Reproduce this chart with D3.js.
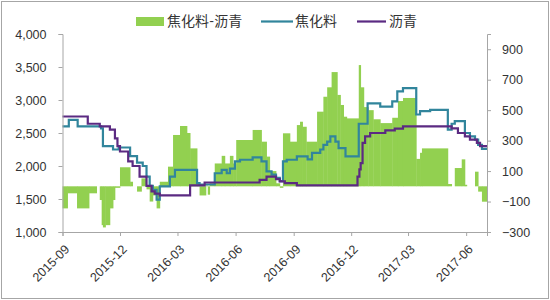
<!DOCTYPE html>
<html>
<head>
<meta charset="utf-8">
<script src="https://cdn.jsdelivr.net/npm/d3@7"></script>
<style>
  body { margin: 0; background: #fff; }
  svg { display: block; font-family: Lato, "Noto Sans CJK SC", sans-serif; }
</style>
</head>
<body>
<div id="chart"></div>
<script>
// legend names
const seriesNames = ["焦化料-沥青", "焦化料", "沥青"];

// x axis tick labels
const xTicks = ["2015-09", "2015-12", "2016-03", "2016-06", "2016-09", "2016-12", "2017-03", "2017-06"];
const leftTicks = [1000, 1500, 2000, 2500, 3000, 3500, 4000];
const rightTicks = [-300, -100, 100, 300, 500, 700, 900];

// 焦化料-沥青 spread (right axis), value holds from date to next date
const spreadDates = ["2015-09-01","2015-09-09","2015-09-24","2015-10-13","2015-10-25","2015-10-30","2015-11-02","2015-11-04","2015-11-08","2015-11-15","2015-11-20","2015-11-23","2015-12-01","2015-12-17","2015-12-21","2015-12-28","2016-01-04","2016-01-12","2016-01-17","2016-01-22","2016-01-28","2016-02-02","2016-02-15","2016-02-23","2016-03-05","2016-03-16","2016-03-21","2016-04-01","2016-04-05","2016-04-15","2016-04-18","2016-04-21","2016-04-29","2016-05-10","2016-05-15","2016-05-23","2016-05-28","2016-06-02","2016-06-28","2016-07-12","2016-07-20","2016-07-25","2016-08-04","2016-08-10","2016-08-15","2016-08-26","2016-09-06","2016-09-11","2016-09-15","2016-09-21","2016-10-08","2016-10-18","2016-10-24","2016-10-31","2016-11-09","2016-11-14","2016-11-19","2016-11-24","2016-12-13","2016-12-16","2016-12-21","2016-12-28","2017-01-05","2017-01-16","2017-02-04","2017-02-13","2017-02-21","2017-03-14","2017-03-20","2017-03-23","2017-05-03","2017-05-09","2017-05-14","2017-05-25","2017-05-30","2017-06-02","2017-06-15","2017-06-20","2017-06-26"];
const spreadValues = [-145,-46,-145,-46,0,-90,-255,-270,-255,-145,-90,-10,125,30,0,-35,52,-20,-100,-60,-145,30,129,337,396,350,249,20,-60,5,-55,20,150,200,150,200,150,304,370,293,195,100,20,-10,348,293,402,424,391,293,490,588,650,750,600,534,457,446,796,650,520,500,440,415,450,560,580,180,220,249,15,0,120,177,10,0,96,-35,-101];

// 焦化料 price (left axis)
const cokeDates = ["2015-09-01","2015-09-11","2015-09-25","2015-11-01","2015-11-04","2015-11-20","2015-11-29","2015-12-17","2015-12-28","2016-01-06","2016-01-12","2016-01-17","2016-01-22","2016-01-28","2016-02-02","2016-02-18","2016-02-26","2016-04-01","2016-04-05","2016-04-29","2016-05-10","2016-05-18","2016-05-23","2016-05-31","2016-06-08","2016-06-28","2016-07-12","2016-07-20","2016-07-28","2016-08-04","2016-08-10","2016-08-15","2016-08-21","2016-09-06","2016-09-23","2016-09-30","2016-10-13","2016-10-18","2016-10-24","2016-10-29","2016-11-06","2016-11-11","2016-11-22","2016-12-13","2016-12-27","2017-01-16","2017-02-04","2017-02-12","2017-02-21","2017-03-14","2017-03-20","2017-04-05","2017-05-03","2017-05-09","2017-05-14","2017-05-30","2017-06-07","2017-06-15","2017-06-20","2017-06-26"];
const cokeValues = [2600,2700,2600,2570,2300,2250,2280,2150,2050,2000,1840,1700,1640,1490,1690,1840,1940,1740,1720,1890,1940,1890,1960,2070,2095,2130,2070,1920,1870,1820,1770,2070,2095,2145,2100,2200,2250,2320,2370,2450,2370,2270,2145,2640,2950,2900,2980,3130,3180,2780,2830,2850,2550,2640,2680,2500,2450,2400,2320,2260];

// 沥青 price (left axis)
const asphaltDates = ["2015-09-01","2015-10-11","2015-10-30","2015-11-15","2015-11-23","2015-11-27","2015-12-01","2015-12-14","2015-12-21","2016-01-01","2016-01-12","2016-01-20","2016-01-25","2016-02-02","2016-03-21","2016-04-13","2016-07-09","2016-07-20","2016-08-04","2016-08-10","2016-08-18","2016-09-06","2016-12-11","2016-12-14","2016-12-16","2016-12-19","2016-12-23","2016-12-31","2017-01-24","2017-02-08","2017-02-21","2017-05-09","2017-05-19","2017-05-30","2017-06-07","2017-06-18","2017-06-23"];
const asphaltValues = [2750,2640,2600,2550,2420,2300,2220,2070,2000,1840,1700,1615,1580,1555,1706,1750,1790,1840,1800,1767,1740,1706,1840,1950,2045,2350,2450,2500,2540,2565,2600,2570,2500,2450,2400,2350,2300];

const endDate = "2017-07-04";

const width = 550, height = 300;
const margin = { top: 34, right: 63, bottom: 68, left: 62.5 };

const parse = d3.timeParse("%Y-%m-%d");
const parseMonth = d3.timeParse("%Y-%m");

const svg = d3.select("#chart")
  .append("svg")
  .attr("width", width)
  .attr("height", height);

// outer frame
svg.append("rect")
  .attr("x", 1.5).attr("y", 1.5)
  .attr("width", width - 3).attr("height", height - 3)
  .attr("fill", "#fff")
  .attr("stroke", "#a6a6a6");

const xScale = d3.scaleTime()
  .domain([parse("2015-09-01"), parse(endDate)])
  .range([margin.left, width - margin.right]);

const yLeft = d3.scaleLinear()
  .domain([1000, 4000])
  .range([height - margin.bottom, margin.top]);

const yRight = d3.scaleLinear()
  .domain([-300, 1000])
  .range([height - margin.bottom, margin.top]);

// spread bars
const bars = spreadDates.map((d, i) => ({
  start: parse(d),
  end: parse(i < spreadDates.length - 1 ? spreadDates[i + 1] : endDate),
  value: spreadValues[i]
}));

svg.append("g")
  .selectAll("rect")
  .data(bars)
  .enter()
  .append("rect")
    .attr("x", d => xScale(d.start))
    .attr("width", d => xScale(d.end) - xScale(d.start) + 0.4)
    .attr("y", d => yRight(Math.max(0, d.value)))
    .attr("height", d => Math.abs(yRight(d.value) - yRight(0)))
    .attr("fill", "#92d050");

// step lines
function stepData(dates, values) {
  const pts = dates.map((d, i) => ({ date: parse(d), value: values[i] }));
  pts.push({ date: parse(endDate), value: values[values.length - 1] });
  return pts;
}

const line = d3.line()
  .x(d => xScale(d.date))
  .y(d => yLeft(d.value))
  .curve(d3.curveStepAfter);

svg.append("path")
  .datum(stepData(cokeDates, cokeValues))
  .attr("fill", "none")
  .attr("stroke", "#31859c")
  .attr("stroke-width", 2.2)
  .attr("d", line);

svg.append("path")
  .datum(stepData(asphaltDates, asphaltValues))
  .attr("fill", "none")
  .attr("stroke", "#5b2a82")
  .attr("stroke-width", 2.2)
  .attr("d", line);

// axes
const axisColor = "#a6a6a6";
const textColor = "#333333";

const gLeft = svg.append("g")
  .attr("transform", `translate(${margin.left},0)`)
  .call(d3.axisLeft(yLeft).tickValues(leftTicks).tickFormat(d3.format(",")).tickSize(4).tickPadding(12));

const gRight = svg.append("g")
  .attr("transform", `translate(${width - margin.right},0)`)
  .call(d3.axisRight(yRight).tickValues(rightTicks).tickSize(4).tickPadding(11));

const gBottom = svg.append("g")
  .attr("transform", `translate(0,${height - margin.bottom})`)
  .call(d3.axisBottom(xScale)
    .tickValues(xTicks.map(parseMonth))
    .tickFormat(d3.timeFormat("%Y-%m"))
    .tickSize(4));

gBottom.selectAll("text")
  .attr("x", 0).attr("y", 0).attr("dy", "0.35em")
  .attr("transform", "translate(4,15) rotate(-45)")
  .style("text-anchor", "end");

[gLeft, gRight, gBottom].forEach(g => {
  g.select(".domain").attr("stroke", axisColor);
  g.selectAll(".tick line").attr("stroke", axisColor);
  g.selectAll("text").attr("fill", textColor).attr("font-size", "12.5px");
});

// legend
const legend = svg.append("g").attr("font-size", "14px").attr("fill", textColor);

legend.append("rect")
  .attr("x", 136).attr("y", 17).attr("width", 28).attr("height", 9)
  .attr("fill", "#92d050");
legend.append("text").attr("x", 167).attr("y", 26).text(seriesNames[0]);

legend.append("line")
  .attr("x1", 261).attr("x2", 293).attr("y1", 21.5).attr("y2", 21.5)
  .attr("stroke", "#31859c").attr("stroke-width", 2.2);
legend.append("text").attr("x", 295).attr("y", 26).text(seriesNames[1]);

legend.append("line")
  .attr("x1", 357).attr("x2", 386).attr("y1", 21.5).attr("y2", 21.5)
  .attr("stroke", "#5b2a82").attr("stroke-width", 2.2);
legend.append("text").attr("x", 389).attr("y", 26).text(seriesNames[2]);
</script>
</body>
</html>
